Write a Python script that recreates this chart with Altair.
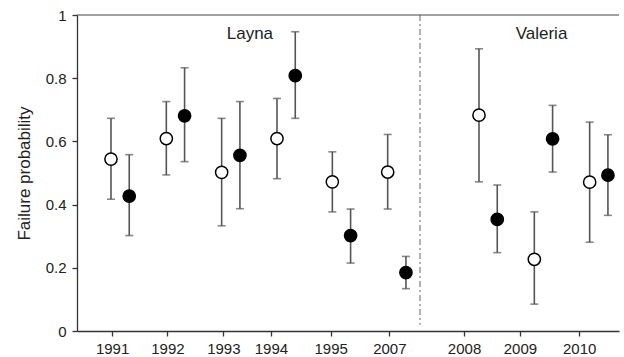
import json
import altair as alt
import pandas as pd

# ---- data ----
years = ["1991", "1992", "1993", "1994", "1995", "2007", "2008", "2009", "2010"]
sites = ["Layna"] * 6 + ["Valeria"] * 3
slot = [1, 2, 3, 4, 5, 6, 7.65, 8.65, 9.65]          # x slot of each year pair
pair_offset = 0.33                                    # filled circle sits right of open

open_mean = [0.544, 0.609, 0.502, 0.609, 0.472, 0.503, 0.683, 0.227, 0.471]
open_lo   = [0.417, 0.494, 0.333, 0.482, 0.377, 0.386, 0.472, 0.085, 0.281]
open_hi   = [0.673, 0.726, 0.673, 0.736, 0.567, 0.622, 0.893, 0.377, 0.661]

filled_mean = [0.427, 0.681, 0.556, 0.808, 0.302, 0.185, 0.353, 0.608, 0.493]
filled_lo   = [0.302, 0.536, 0.387, 0.673, 0.215, 0.134, 0.248, 0.503, 0.366]
filled_hi   = [0.558, 0.833, 0.726, 0.947, 0.386, 0.236, 0.462, 0.714, 0.621]

tick_pos = [1.02, 2.02, 3.03, 3.89, 4.97, 6.03, 7.38, 8.39, 9.46]
site_names = ["Layna", "Valeria"]
site_x = [3.51, 8.78]
site_y = [0.923, 0.923]
divider_x = 6.584

rows = []
for i in range(len(years)):
    rows.append(dict(year=years[i], site=sites[i], group="open",
                     x=slot[i], m=open_mean[i], lo=open_lo[i], hi=open_hi[i]))
    rows.append(dict(year=years[i], site=sites[i], group="filled",
                     x=slot[i] + pair_offset, m=filled_mean[i], lo=filled_lo[i], hi=filled_hi[i]))
df = pd.DataFrame(rows)
labels_df = pd.DataFrame(dict(name=site_names, x=site_x, y=site_y))

W, H = 542, 316
xscale = alt.Scale(domain=[0.386, 10.18], nice=False, zero=False)
yscale = alt.Scale(domain=[0, 1], nice=False)

label_expr = f"{json.dumps(years)}[indexof({json.dumps(tick_pos)}, datum.value)]"

base = alt.Chart(df)

xenc = alt.X("x:Q", scale=xscale,
             axis=alt.Axis(values=tick_pos, labelExpr=label_expr, title=None,
                           grid=False, tickSize=5, labelPadding=5))
yenc = alt.Y("m:Q", scale=yscale,
             axis=alt.Axis(values=[0, 0.2, 0.4, 0.6, 0.8, 1.0], format="~g",
                           title="Failure probability", grid=False, tickSize=5,
                           labelPadding=6, titlePadding=12))

bars = base.mark_rule(color="#555555", strokeWidth=1.6).encode(
    x=xenc, y=alt.Y("lo:Q", scale=yscale), y2="hi:Q")
cap_hi = base.mark_tick(color="#555555", orient="horizontal", size=8, thickness=1.6).encode(
    x=alt.X("x:Q", scale=xscale), y=alt.Y("hi:Q", scale=yscale))
cap_lo = base.mark_tick(color="#555555", orient="horizontal", size=8, thickness=1.6).encode(
    x=alt.X("x:Q", scale=xscale), y=alt.Y("lo:Q", scale=yscale))

points = base.mark_point(shape="circle", size=150, strokeWidth=1.5, opacity=1,
                         filled=False).encode(
    x=alt.X("x:Q", scale=xscale),
    y=yenc,
    fill=alt.Fill("group:N", scale=alt.Scale(domain=["open", "filled"],
                                              range=["white", "black"]), legend=None),
    stroke=alt.value("black"),
)

top_line = alt.Chart(pd.DataFrame({"v": [1]})).mark_rule(color="#444444", strokeWidth=1.2).encode(
    y=alt.Y("v:Q", scale=yscale), x=alt.value(0), x2=alt.value(W))

divider = alt.Chart(pd.DataFrame({"x": [divider_x], "a": [1.0], "b": [0.02]})).mark_rule(
    color="#888888", strokeWidth=1.3, strokeDash=[6, 3, 2, 3]).encode(
    x=alt.X("x:Q", scale=xscale), y=alt.Y("a:Q", scale=yscale), y2="b:Q")

site_text = alt.Chart(labels_df).mark_text(
    font="Liberation Sans", fontSize=17, color="#222222", align="center",
    baseline="alphabetic").encode(
    x=alt.X("x:Q", scale=xscale), y=alt.Y("y:Q", scale=yscale), text="name:N")

chart = alt.layer(divider, top_line, bars, cap_hi, cap_lo, points, site_text).properties(
    width=W, height=H,
    padding={"left": 77, "top": 15, "right": 5, "bottom": 26},
    autosize=alt.AutoSizeParams(type="none"),
).configure_view(stroke=None).configure_axis(
    domainColor="#333333", tickColor="#333333", domainWidth=1.3, tickWidth=1.3,
    labelFont="Liberation Sans", labelFontSize=15, labelColor="#222222",
    titleFont="Liberation Sans", titleFontSize=17, titleFontWeight="normal",
    titleColor="#222222",
)

chart.save("out.html", embed_options={"renderer": "svg", "actions": False})
